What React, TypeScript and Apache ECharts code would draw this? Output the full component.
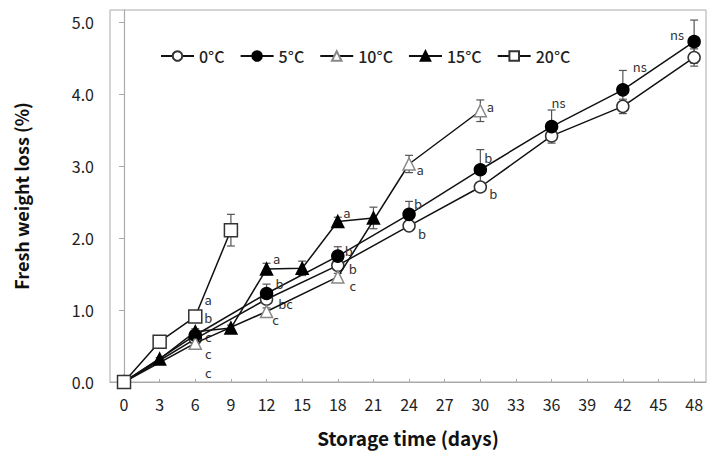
import React, { useEffect, useRef } from 'react';
import * as echarts from 'echarts';

// ---- data ----
const seriesNames = ['0°C', '5°C', '10°C', '15°C', '20°C'];
const xTicks = [0, 3, 6, 9, 12, 15, 18, 21, 24, 27, 30, 33, 36, 39, 42, 45, 48];
const yTicks = [0, 1, 2, 3, 4, 5];

const days0 = [0, 6, 12, 18, 24, 30, 36, 42, 48];
const loss0 = [0, 0.6, 1.15, 1.62, 2.17, 2.71, 3.42, 3.83, 4.51];
const err0 = [0, 0.03, 0.05, 0.05, 0.06, 0.06, 0.06, 0.1, 0.12];
const sig0 = ['', 'c', 'bc', 'b', 'b', 'b', '', '', ''];

const days5 = [0, 6, 12, 18, 24, 30, 36, 42, 48];
const loss5 = [0, 0.65, 1.23, 1.75, 2.33, 2.95, 3.55, 4.06, 4.73];
const err5 = [0, 0.04, 0.13, 0.13, 0.18, 0.28, 0.23, 0.27, 0.3];
const sig5 = ['', 'c', 'b', 'b', 'b', 'b', 'ns', 'ns', 'ns'];

const days10 = [0, 6, 12, 18, 24, 30];
const loss10 = [0, 0.54, 0.98, 1.46, 3.03, 3.77];
const err10 = [0, 0.03, 0.05, 0.05, 0.12, 0.15];
const sig10 = ['', 'c', 'c', 'c', 'a', 'a'];

const days15 = [0, 3, 6, 9, 12, 15, 18, 21];
const loss15 = [0, 0.32, 0.7, 0.75, 1.57, 1.58, 2.23, 2.28];
const err15 = [0, 0.02, 0.04, 0.04, 0.08, 0.1, 0.06, 0.15];
const sig15 = ['', '', 'b', '', 'a', '', 'a', ''];

const days20 = [0, 3, 6, 9];
const loss20 = [0, 0.56, 0.91, 2.11];
const err20 = [0, 0.03, 0.05, 0.22];
const sig20 = ['', '', 'a', ''];

// ---- layout of significance letters (pixel offsets from marker centre) ----
const labelOffsets: Record<string, Record<number, [number, number]>> = {
  '0°C': { 6: [13, 15], 12: [19, 4], 18: [15, 3], 24: [13, 8], 30: [13, 6] },
  '5°C': { 6: [13, 1], 12: [13, -10], 18: [11, -6], 24: [9, -11], 30: [8, -12], 36: [7, -24], 42: [17, -23], 48: [-17, -7] },
  '10°C': { 6: [13, 29], 12: [9, 8], 18: [15, 9], 24: [11, 6], 30: [10, -4] },
  '15°C': { 6: [13, -14], 12: [10, -11], 18: [9, -9] },
  '20°C': { 6: [13, -17] },
};

const FONT = "'Noto Sans CJK KR', 'Noto Sans', sans-serif";

type Style = { symbol: string; size: number; fill: string; border: string };
const styles: Record<string, Style> = {
  '0°C': { symbol: 'circle', size: 12, fill: '#fff', border: '#333' },
  '5°C': { symbol: 'circle', size: 12, fill: '#000', border: '#000' },
  '10°C': { symbol: 'triangle', size: 12, fill: '#fff', border: '#888' },
  '15°C': { symbol: 'triangle', size: 12, fill: '#000', border: '#000' },
  '20°C': { symbol: 'rect', size: 13, fill: '#fff', border: '#333' },
};

const groups: Record<string, { days: number[]; loss: number[]; err: number[]; sig: string[] }> = {
  '0°C': { days: days0, loss: loss0, err: err0, sig: sig0 },
  '5°C': { days: days5, loss: loss5, err: err5, sig: sig5 },
  '10°C': { days: days10, loss: loss10, err: err10, sig: sig10 },
  '15°C': { days: days15, loss: loss15, err: err15, sig: sig15 },
  '20°C': { days: days20, loss: loss20, err: err20, sig: sig20 },
};

function buildOption() {
  const lineSeries = seriesNames.map((name, si) => {
    const g = groups[name];
    const st = styles[name];
    return {
      name,
      type: 'line',
      z: 3 + si,
      symbol: st.symbol,
      symbolSize: st.size,
      showAllSymbol: true,
      lineStyle: { color: '#111', width: 1.5 },
      itemStyle: { color: st.fill, borderColor: st.border, borderWidth: 1.5 },
      label: { show: false },
      data: g.days.map((d, i) => {
        const s = g.sig[i];
        const item: any = { value: [d, g.loss[i]] };
        if (s) {
          const off = (labelOffsets[name] || {})[d] || [10, 0];
          item.label = {
            show: true,
            formatter: s,
            position: 'inside',
            align: 'center',
            verticalAlign: 'middle',
            offset: off,
            color: '#333',
            textBorderWidth: 0,
            textBorderColor: 'transparent',
            fontSize: 13,
            lineHeight: 12,
            fontFamily: FONT,
          };
        }
        return item;
      }),
    };
  });

  const errData: number[][] = [];
  seriesNames.forEach((name) => {
    const g = groups[name];
    g.days.forEach((d, i) => {
      if (g.err[i] > 0) errData.push([d, g.loss[i], g.err[i]]);
    });
  });

  const errSeries = {
    type: 'custom',
    z: 1,
    silent: true,
    encode: { x: 0, y: 1 },
    data: errData,
    renderItem: (params: any, api: any) => {
      const x = api.value(0);
      const y = api.value(1);
      const e = api.value(2);
      const top = api.coord([x, y + e]);
      const bot = api.coord([x, y - e]);
      const w = 4;
      const st = { stroke: '#555', lineWidth: 1.2 };
      return {
        type: 'group',
        children: [
          { type: 'line', shape: { x1: top[0], y1: top[1], x2: bot[0], y2: bot[1] }, style: st },
          { type: 'line', shape: { x1: top[0] - w, y1: top[1], x2: top[0] + w, y2: top[1] }, style: st },
          { type: 'line', shape: { x1: bot[0] - w, y1: bot[1], x2: bot[0] + w, y2: bot[1] }, style: st },
        ],
      };
    },
  };

  return {
    animation: false,
    backgroundColor: '#fff',
    textStyle: { fontFamily: FONT },
    grid: { left: 110, right: 4, top: 10, bottom: 87, show: true, borderColor: '#aaa', borderWidth: 1 },
    legend: {
      data: seriesNames,
      left: 155,
      top: 43,
      itemWidth: 33,
      itemHeight: 12,
      itemGap: 15,
      textStyle: { fontSize: 16, color: '#222', fontFamily: FONT, fontWeight: 500 },
    },
    xAxis: {
      type: 'value',
      min: -1.18,
      max: 49.0,
      name: 'Storage time (days)',
      nameLocation: 'middle',
      nameGap: 46,
      nameTextStyle: { fontSize: 19, fontWeight: 'bold', color: '#111', fontFamily: FONT },
      axisLine: { show: true, lineStyle: { color: '#aaa', width: 1.2 } },
      axisTick: { show: true, inside: true, length: 3, customValues: xTicks, lineStyle: { color: '#aaa' } },
      axisLabel: { customValues: xTicks, fontSize: 16, color: '#222', margin: 14, fontFamily: FONT },
      splitLine: { show: false },
    },
    yAxis: {
      type: 'value',
      min: 0,
      max: 5.17,
      name: 'Fresh weight loss (%)',
      nameLocation: 'middle',
      nameGap: 80,
      nameTextStyle: { fontSize: 18, fontWeight: 'bold', color: '#111', fontFamily: FONT },
      axisLine: { show: true, lineStyle: { color: '#aaa', width: 1.2 } },
      axisTick: { show: true, inside: false, length: 5, customValues: yTicks, lineStyle: { color: '#aaa' } },
      axisLabel: {
        customValues: yTicks,
        fontSize: 16,
        color: '#222',
        margin: 16,
        fontFamily: FONT,
        formatter: (v: number) => v.toFixed(1),
      },
      splitLine: { show: false },
    },
    series: [errSeries, ...lineSeries],
  };
}

export default function App() {
  const ref = useRef<HTMLDivElement>(null);
  useEffect(() => {
    document.body.style.margin = '0';
    const chart = echarts.init(ref.current!, null, { renderer: 'svg' });
    chart.setOption(buildOption() as any);
    return () => chart.dispose();
  }, []);
  return <div ref={ref} style={{ width: 710, height: 469, background: '#fff' }} />;
}
